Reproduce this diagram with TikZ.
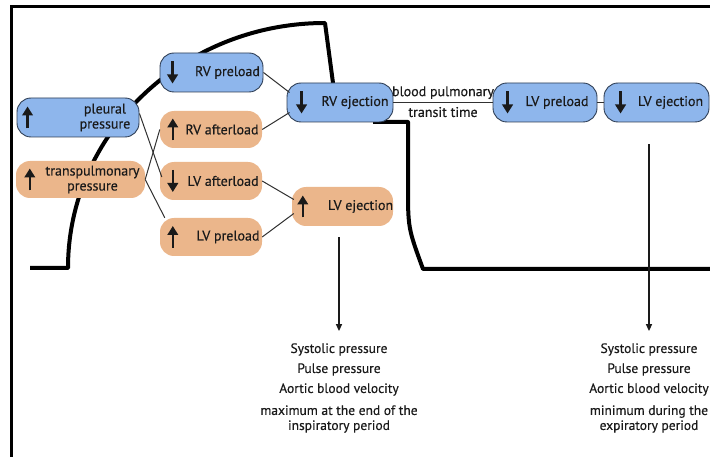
\documentclass[tikz,border=0pt]{standalone}
\usepackage{fontspec}
\setmainfont{PT Sans}[FakeBold=0.4]
\usetikzlibrary{arrows.meta}
\definecolor{boxblue}{HTML}{8EB6EC}
\definecolor{boxedge}{HTML}{2F3E55}
\definecolor{boxtan}{HTML}{EBB68B}
\definecolor{ink}{HTML}{1A1A1A}

\begin{document}
\begin{tikzpicture}[x=1pt,y=-1pt,
  bluebox/.style={draw=boxedge,line width=0.9pt,fill=boxblue,rounded corners=14pt,inner sep=0pt},
  tanbox/.style={fill=boxtan,rounded corners=14pt,inner sep=0pt},
  lbl/.style={font=\fontsize{14}{15}\selectfont,text=ink,align=center,inner sep=0pt},
  result/.style={font=\fontsize{13.5}{15}\selectfont,text=ink,align=center,inner sep=0pt},
  link/.style={draw=ink!90,line width=1pt},
  trend/.style={line width=2.3pt,-{Triangle[length=9pt,width=10.5pt]},ink},
  border/.style={line width=3pt,black},
  phase/.style={line width=4pt,black,line join=round},
  lead/.style={line width=1.4pt,-{Triangle[length=7pt,width=6pt]},ink}]

\useasboundingbox (0,0) rectangle (710,457);

% open frame: top and left edges only
\coordinate (fTL) at (11,7);
\coordinate (fTR) at (710,7);
\coordinate (fBL) at (11,457);
\draw[border] (fTR) -- (fTL) -- (fBL);

% thick boundary curves (inspiration / expiration)
\coordinate (cA) at (30,268);
\coordinate (cB) at (68,268);
\coordinate (cC) at (325,23);
\coordinate (cD) at (333,83);
\draw[phase] (cA) -- (cB) .. controls (68,133) and (183,23) .. (cC) -- (cD);
\coordinate (dA) at (373,122);
\coordinate (dB) at (408,122);
\coordinate (dC) at (408,185);
\coordinate (dD) at (423,269);
\coordinate (dE) at (710,269);
\draw[phase] (dA) -- (dB) -- (dC) .. controls (408,228) .. (dD) -- (dE);

% boxes
\node[bluebox,minimum width=122pt,minimum height=39pt] (pl) at (78,117.5) {};
\node[tanbox,minimum width=129pt,minimum height=37pt] (tp) at (80.5,179.5) {};
\node[bluebox,minimum width=103pt,minimum height=39pt] (rvpre) at (211.5,72.5) {};
\node[tanbox,minimum width=102pt,minimum height=37pt] (rvaft) at (211,129.5) {};
\node[tanbox,minimum width=102pt,minimum height=38pt] (lvaft) at (211,181) {};
\node[tanbox,minimum width=102pt,minimum height=38pt] (lvpre) at (211,237) {};
\node[bluebox,minimum width=106pt,minimum height=39pt] (rvej) at (340,102.5) {};
\node[tanbox,minimum width=101pt,minimum height=39pt] (lvejo) at (342.5,206.5) {};
\node[bluebox,minimum width=104pt,minimum height=39pt] (lvpreb) at (545,102.5) {};
\node[bluebox,minimum width=105pt,minimum height=39pt] (lvejb) at (656.5,102.5) {};

% box texts
\node[lbl] (plT) at ([xshift=27pt]pl.center) {pleural\\pressure};
\node[lbl] (tpT) at ([xshift=12pt]tp.center) {transpulmonary\\pressure};
\node[lbl] (rvpreT) at ([xshift=16pt]rvpre.center) {RV preload};
\node[lbl] (rvaftT) at ([xshift=11pt]rvaft.center) {RV afterload};
\node[lbl] (lvaftT) at ([xshift=12pt]lvaft.center) {LV afterload};
\node[lbl] (lvpreT) at ([xshift=17pt]lvpre.center) {LV preload};
\node[lbl] (rvejT) at ([xshift=15pt]rvej.center) {RV ejection};
\node[lbl] (lvejoT) at ([xshift=18pt]lvejo.center) {LV ejection};
\node[lbl] (lvprebT) at ([xshift=12pt]lvpreb.center) {LV preload};
\node[lbl] (lvejbT) at ([xshift=14pt]lvejb.center) {LV ejection};

% up / down trend arrows inside the boxes
\draw[trend] ([xshift=11pt,yshift=-11pt]pl.west) -- ([xshift=11pt,yshift=11pt]pl.west);
\draw[trend] ([xshift=14pt,yshift=-11pt]tp.west) -- ([xshift=14pt,yshift=11pt]tp.west);
\draw[trend] ([xshift=13pt,yshift=11pt]rvpre.west) -- ([xshift=13pt,yshift=-11pt]rvpre.west);
\draw[trend] ([xshift=13pt,yshift=-11pt]rvaft.west) -- ([xshift=13pt,yshift=11pt]rvaft.west);
\draw[trend] ([xshift=13pt,yshift=11pt]lvaft.west) -- ([xshift=13pt,yshift=-11pt]lvaft.west);
\draw[trend] ([xshift=13pt,yshift=-11pt]lvpre.west) -- ([xshift=13pt,yshift=11pt]lvpre.west);
\draw[trend] ([xshift=15pt,yshift=11pt]rvej.west) -- ([xshift=15pt,yshift=-11pt]rvej.west);
\draw[trend] ([xshift=11pt,yshift=-11pt]lvejo.west) -- ([xshift=11pt,yshift=11pt]lvejo.west);
\draw[trend] ([xshift=15pt,yshift=11pt]lvpreb.west) -- ([xshift=15pt,yshift=-11pt]lvpreb.west);
\draw[trend] ([xshift=17pt,yshift=11pt]lvejb.west) -- ([xshift=17pt,yshift=-11pt]lvejb.west);

% connectors
\draw[link] ([yshift=4pt]pl.east) -- ([xshift=2pt,yshift=4pt]lvaft.west);
\draw[link] (tp.east) -- (rvaft.west);
\draw[link] (tp.east) -- ([xshift=5pt]lvpre.north west);
\draw[link] (rvpre.east) -- ([xshift=3pt,yshift=10pt]rvej.west);
\draw[link] (rvaft.east) -- ([xshift=3pt,yshift=-10pt]rvej.west);
\draw[link] (lvaft.east) -- ([xshift=2pt,yshift=7pt]lvejo.west);
\draw[link] (lvpre.east) -- ([xshift=2pt,yshift=-7pt]lvejo.west);
\draw[link] (rvej.east) -- node[lbl,above=3pt] (bpt) {blood pulmonary}
                           node[lbl,below=4pt] (ttt) {transit time} (lvpreb.west);
\draw[link] (lvpreb.east) -- (lvejb.west);

% consequences on arterial signals
\node[result] (resL) at (339,388) {Systolic pressure\\[5pt]Pulse pressure\\[5pt]Aortic blood velocity\\[7pt]maximum at the end of the\\inspiratory period};
\node[result] (resR) at (649,388) {Systolic pressure\\[5pt]Pulse pressure\\[5pt]Aortic blood velocity\\[7pt]minimum during the\\expiratory period};
\draw[lead] ([xshift=-3.5pt,yshift=-11pt]lvejo.south) -- ([yshift=12pt]resL.north);
\draw[lead] ([xshift=-7.5pt,yshift=-22pt]lvejb.south) -- ([yshift=12pt]resR.north);

\end{tikzpicture}
\end{document}
